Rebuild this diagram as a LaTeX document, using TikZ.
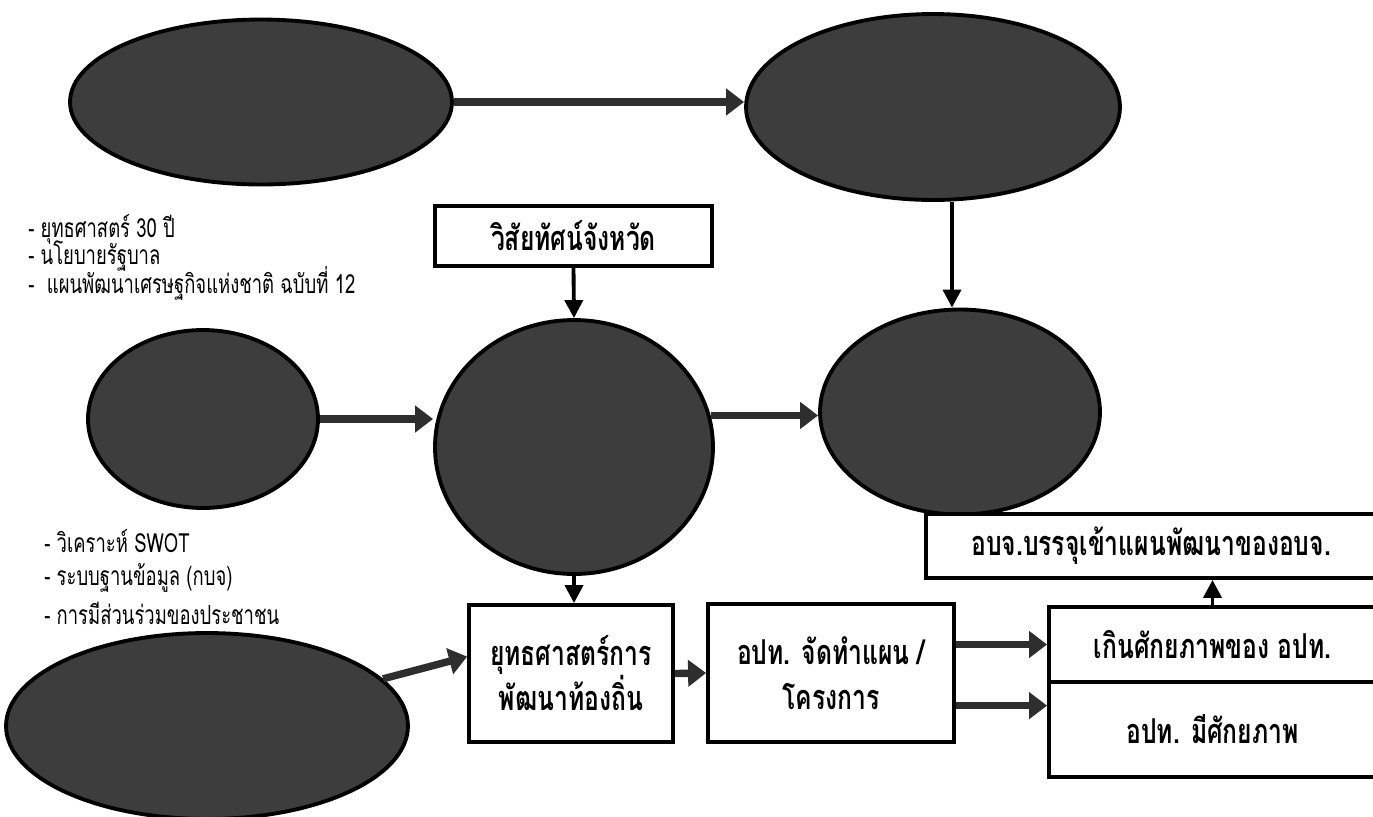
\documentclass[tikz,border=0pt]{standalone}
\usepackage{fontspec}
\newfontfamily\thai[Script=Thai,FakeStretch=0.7]{Loma}
\newfontfamily\thaib[Script=Thai,FakeStretch=0.72]{Loma}
\usetikzlibrary{shapes.geometric,arrows.meta,calc}
\begin{document}
\begin{tikzpicture}[x=0.02cm,y=-0.02cm,
  blob/.style={ellipse, draw=black, line width=2.2pt, fill=black!76, inner sep=0pt},
  box/.style={draw=black, line width=2.2pt, fill=white, align=center, inner sep=0pt,
    font=\thaib\bfseries\fontsize{19.5}{25.6}\selectfont},
  lst/.style={anchor=west, inner sep=0pt, font=\thai\fontsize{15}{17}\selectfont},
  fatarr/.style={draw=black!82, line width=4.2pt, -{Triangle[length=0.36cm,width=0.52cm]}},
  linarr/.style={draw=black, line width=2.2pt, -{Triangle[length=0.36cm,width=0.36cm]}},
]
\useasboundingbox (0,0) rectangle (1373,816);
\clip (0,0) rectangle (1373,816);

% ellipses
\node[blob, minimum width=7.64cm, minimum height=3.3cm]  (e1) at (261,102) {};
\node[blob, minimum width=7.48cm, minimum height=3.72cm] (e2) at (933,107) {};
\node[blob, minimum width=4.6cm,  minimum height=3.56cm] (e3) at (203,419) {};
\node[blob, minimum width=5.56cm, minimum height=5.08cm] (c)  at (574,447) {};
\node[blob, minimum width=5.6cm,  minimum height=4.1cm]  (e4) at (960,412) {};
\node[blob, minimum width=8.04cm, minimum height=3.72cm] (e5) at (207,726) {};

% boxes
\node[box, minimum width=5.54cm, minimum height=1.2cm]  (vis) at (573.5,236) {วิสัยทัศน์จังหวัด};
\node[box, minimum width=4.08cm, minimum height=2.74cm] (b1) at (571,673.5) {ยุทธศาสตร์การ\\พัฒนาท้องถิ่น};
\node[box, minimum width=4.92cm, minimum height=2.76cm] (b2) at (831,673) {อปท. จัดทำแผน /\\โครงการ};
\node[box, minimum width=9cm,    minimum height=1.28cm] (top) at (1151,546) {อบจ.บรรจุเข้าแผนพัฒนาของอบจ.};
\node[box, minimum width=6.54cm, minimum height=1.5cm]  (k1) at (1212.5,644.5) {เกินศักยภาพของ อปท.};
\node[box, minimum width=6.54cm, minimum height=1.9cm]  (k2) at (1212.5,729.5) {อปท. มีศักยภาพ};

% lists
\node[lst] (l1a) at (28,229) {- ยุทธศาสตร์ 30 ปี};
\node[lst] (l1b) at (28,256) {- นโยบายรัฐบาล};
\node[lst] (l1c) at (28,283) {-\ \ แผนพัฒนาเศรษฐกิจแห่งชาติ ฉบับที่ 12};
\node[lst] (l2a) at (44,541) {- วิเคราะห์ SWOT};
\node[lst] (l2b) at (44,578) {- ระบบฐานข้อมูล (กบจ)};
\node[lst] (l2c) at (44,613) {- การมีส่วนร่วมของประชาชน};

% connectors
\coordinate (vx) at (952,0);
\coordinate (p1) at ($(b1.north west)!0.38!(b1.south west)$);
\coordinate (p2) at ($(b2.north east)!0.73!(b2.south east)$);
\draw[fatarr] (e1.east) -- (e1.east -| e2.west);
\draw[linarr] (vis.south) -- (c.north);
\draw[linarr] (e2.south -| vx) -- (e4.north -| vx);
\draw[fatarr] (e3.east) -- (e3.east -| c.west);
\draw[fatarr] (c.13) -- (c.13 -| e4.west);
\draw[linarr] (c.south) -- (c.south |- b1.north);
\draw[fatarr] (e5.15) -- (p1);
\draw[fatarr] (b1.east) -- (b2.west);
\draw[fatarr] (b2.east |- k1.west) -- (k1.west);
\draw[fatarr] (p2) -- (p2 -| k2.west);
\draw[linarr] (k1.north) -- (k1.north |- top.south);
\end{tikzpicture}
\end{document}
